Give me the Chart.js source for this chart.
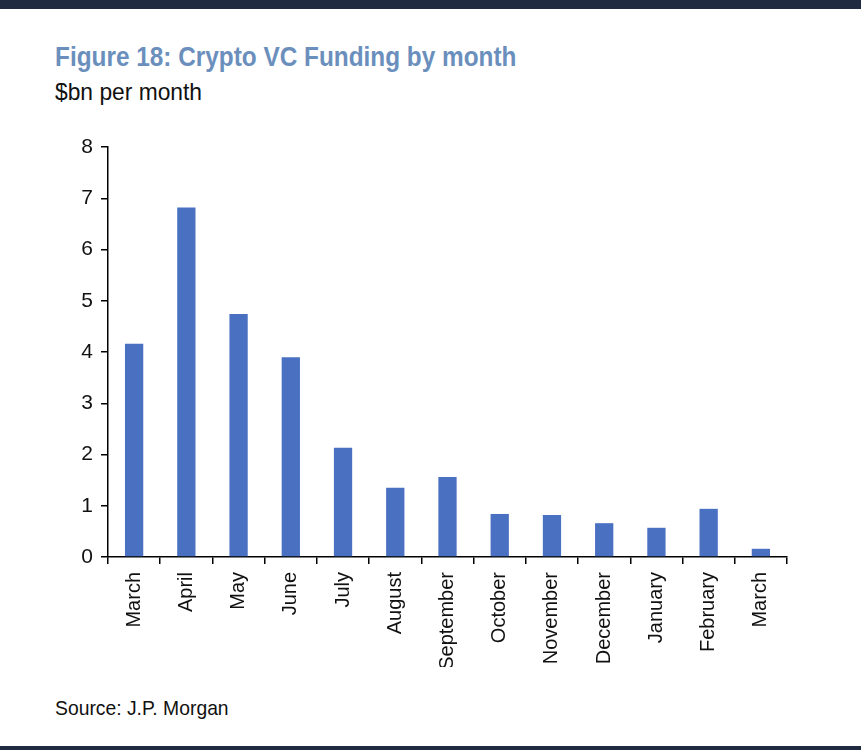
<!DOCTYPE html>
<html>
<head>
<meta charset="utf-8">
<script src="https://cdn.jsdelivr.net/npm/chart.js@4.4.0/dist/chart.umd.min.js"></script>
<style>
  html, body { margin: 0; padding: 0; background: #ffffff; }
  body { width: 861px; height: 750px; position: relative; overflow: hidden; font-family: "Liberation Sans", Arial, sans-serif; }
  #topband { position: absolute; left: 0; top: 0; width: 861px; height: 9px; background: #1f2a40; }
  #botband { position: absolute; left: 0; top: 746px; width: 861px; height: 4px; background: #1f2a40; }
  .txt { position: absolute; left: 55px; white-space: nowrap; transform-origin: 0 0; line-height: 1; }
  #title { top: 43px; font-size: 28px; font-weight: bold; color: #6b8fbd; transform: scaleX(0.87); }
  #subtitle { top: 80px; font-size: 24px; color: #111; transform: scaleX(0.95); }
  #source { top: 697px; font-size: 21px; color: #111; transform: scaleX(0.92); }
  #wrap { position: absolute; left: 0; top: 0; width: 861px; height: 750px; }
</style>
</head>
<body>
<div id="topband"></div>
<div id="botband"></div>
<div id="title" class="txt">Figure 18: Crypto VC Funding by month</div>
<div id="subtitle" class="txt">$bn per month</div>
<div id="source" class="txt">Source: J.P. Morgan</div>
<div id="wrap"><canvas id="c" width="861" height="750"></canvas></div>
<script>
const categories = ["March", "April", "May", "June", "July", "August", "September", "October", "November", "December", "January", "February", "March"];
const funding = [4.16, 6.82, 4.74, 3.9, 2.13, 1.35, 1.56, 0.84, 0.82, 0.66, 0.57, 0.94, 0.16];
const yTicks = [0, 1, 2, 3, 4, 5, 6, 7, 8];

const FONT = "'Liberation Sans', Arial, sans-serif";

new Chart(document.getElementById('c'), {
  type: 'bar',
  data: {
    labels: categories,
    datasets: [{
      data: funding,
      backgroundColor: '#4a70c2',
      borderWidth: 0,
      barPercentage: 0.7,
      categoryPercentage: 0.5
    }]
  },
  options: {
    responsive: false,
    animation: false,
    devicePixelRatio: 1,
    layout: { padding: { left: 40, top: 147, right: 74, bottom: 83 } },
    plugins: { legend: { display: false }, title: { display: false }, tooltip: { enabled: false } },
    scales: {
      y: {
        min: 0, max: 8,
        afterFit: s => { s.width = 68; },
        afterBuildTicks: s => { s.ticks = yTicks.map(v => ({ value: v })); },
        border: { display: true, color: '#000', width: 1.5 },
        grid: { display: true, drawOnChartArea: false, drawTicks: true, tickLength: 7, color: '#000', lineWidth: 1.5 },
        ticks: { color: '#111', font: { family: FONT, size: 21 }, padding: 8 }
      },
      x: {
        offset: true,
        afterFit: s => { s.height = 110; },
        border: { display: true, color: '#000', width: 1.5 },
        grid: { display: true, offset: true, drawOnChartArea: false, drawTicks: true, tickLength: 7, color: '#000', lineWidth: 1.5 },
        ticks: { color: '#111', font: { family: FONT, size: 20 }, maxRotation: 90, minRotation: 90, padding: 8, autoSkip: false }
      }
    }
  }
});
</script>
</body>
</html>
